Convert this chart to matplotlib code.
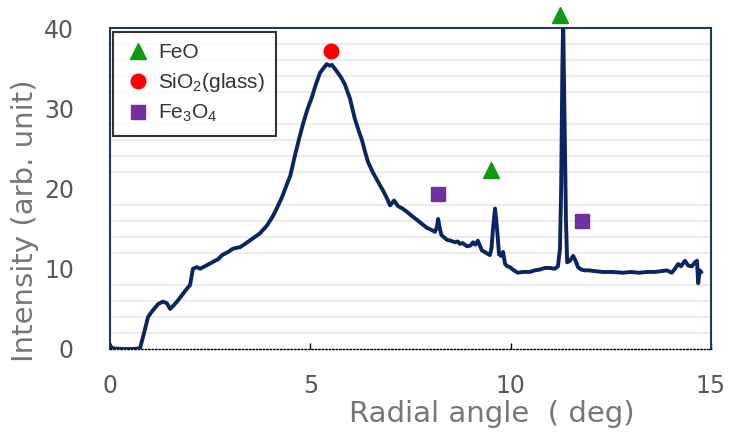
import numpy as np
import matplotlib
matplotlib.use('Agg')
import matplotlib.pyplot as plt
from matplotlib.ticker import MultipleLocator

plt.rcParams['font.family'] = ['DejaVu Sans']
plt.rcParams['mathtext.fontset'] = 'custom'
plt.rcParams['mathtext.rm'] = 'Liberation Sans'
plt.rcParams['mathtext.it'] = 'Liberation Sans'

angle = [0.0, 0.05, 0.3, 0.6, 0.75, 0.85, 0.95, 1.05, 1.2, 1.32, 1.42, 1.5, 1.6, 1.67,
         1.78, 1.87, 2.0, 2.07, 2.17, 2.25, 2.4, 2.55, 2.7, 2.8, 2.95, 3.07, 3.25, 3.4,
         3.57, 3.74, 3.92, 4.07, 4.17, 4.3, 4.42, 4.5, 4.62, 4.72, 4.82, 4.93, 5.04, 5.14,
         5.24, 5.33, 5.41, 5.48, 5.54, 5.6, 5.66, 5.76, 5.86, 5.99, 6.11, 6.2, 6.29, 6.37,
         6.44, 6.56, 6.65, 6.74, 6.83, 6.91, 6.99, 7.09, 7.19, 7.3, 7.41, 7.53, 7.66, 7.78,
         7.91, 8.0, 8.11, 8.16, 8.19, 8.22, 8.27, 8.41, 8.5, 8.61, 8.68, 8.73, 8.8, 8.91,
         9.0, 9.06, 9.12, 9.18, 9.23, 9.28, 9.38, 9.48, 9.52, 9.56, 9.61, 9.66, 9.71, 9.76,
         9.81, 9.86, 9.92, 9.98, 10.08, 10.18, 10.3, 10.48, 10.6, 10.73, 10.85, 10.98, 11.1,
         11.18, 11.23, 11.26, 11.29, 11.31, 11.34, 11.38, 11.41, 11.48, 11.56, 11.62, 11.68,
         11.76, 11.85, 11.95, 12.1, 12.3, 12.55, 12.8, 13.0, 13.2, 13.4, 13.6, 13.75, 13.9,
         14.02, 14.1, 14.18, 14.25, 14.35, 14.43, 14.52, 14.6, 14.65, 14.68, 14.72, 14.75]
intensity = [0.5, 0.1, 0.0, 0.0, 0.1, 2.0, 4.0, 4.7, 5.6, 5.9, 5.7, 5.0, 5.5, 5.9,
             6.6, 7.2, 8.0, 10.0, 10.2, 10.0, 10.4, 10.8, 11.2, 11.7, 12.1, 12.5, 12.7, 13.2,
             13.8, 14.4, 15.4, 16.6, 17.6, 19.0, 20.6, 21.6, 24.2, 26.2, 28.1, 29.9, 31.4, 33.0,
             34.4, 35.0, 35.5, 35.3, 35.4, 35.0, 34.6, 33.9, 33.0, 31.2, 28.7, 27.3, 26.0, 24.5,
             23.3, 22.0, 21.2, 20.4, 19.6, 18.8, 17.9, 18.5, 17.8, 17.5, 17.1, 16.6, 16.1, 15.6,
             15.1, 14.9, 14.6, 15.2, 16.2, 15.3, 14.2, 13.6, 13.5, 13.3, 13.4, 13.1, 13.2, 12.8,
             12.9, 13.3, 13.0, 13.5, 12.9, 12.3, 12.0, 11.7, 12.5, 15.0, 17.5, 15.0, 11.8, 11.6,
             12.1, 10.6, 10.3, 10.2, 9.8, 9.5, 9.6, 9.6, 9.8, 9.9, 10.1, 10.1, 10.0,
             10.3, 12.5, 20.0, 35.0, 41.0, 30.0, 16.0, 10.8, 11.0, 11.6, 11.0, 10.2,
             9.9, 9.8, 9.8, 9.7, 9.6, 9.6, 9.5, 9.6, 9.5, 9.6, 9.6, 9.7, 9.8,
             9.5, 10.0, 10.6, 10.3, 11.0, 10.4, 10.3, 10.8, 11.0, 8.2, 9.8, 9.6]

feo_x = [9.51, 11.23]
feo_y = [22.3, 41.6]
sio2_x = [5.52]
sio2_y = [37.1]
fe3o4_x = [8.19, 11.78]
fe3o4_y = [19.3, 15.9]

fig = plt.figure(figsize=(7.29, 4.37), dpi=100)
ax = fig.add_axes([110/729, 88/437, 601/729, 321/437])

ax.plot(angle, intensity, color='#0c2461', lw=2.8, zorder=3)

ax.plot(feo_x, feo_y, ls='none', marker='^', ms=12, color='#0f9a0f', label='FeO', clip_on=False, zorder=4)
ax.plot(sio2_x, sio2_y, ls='none', marker='o', ms=10.5, color='#ff0000', label='SiO$_2$(glass)', zorder=4)
ax.plot(fe3o4_x, fe3o4_y, ls='none', marker='s', ms=10.5, color='#7030a0', label='Fe$_3$O$_4$', zorder=4)

ax.set_xlim(0, 15)
ax.set_ylim(0, 40)
ax.set_xticks([0, 5, 10, 15])
ax.set_yticks([0, 10, 20, 30, 40])
ax.yaxis.set_minor_locator(MultipleLocator(2))
ax.grid(False)
ax.grid(True, which='minor', axis='y', color='#ececec', lw=1.5)
ax.set_axisbelow(True)

ax.tick_params(axis='x', direction='in', length=4, width=1, color='black',
               labelsize=17, labelcolor='#595959', pad=18)
ax.tick_params(axis='y', which='both', length=0, labelsize=17, labelcolor='#595959', pad=26)
ax.tick_params(axis='y', which='minor', labelleft=False)

for s in ['left', 'top', 'right']:
    ax.spines[s].set_color('#1f3864')
    ax.spines[s].set_linewidth(1.5)
ax.spines['bottom'].set_color('black')
ax.spines['bottom'].set_linestyle((0, (1, 1.5)))
ax.spines['bottom'].set_linewidth(1.0)

ax.set_xlabel('Radial angle  ( deg)', fontsize=21, color='#767676')
ax.xaxis.set_label_coords(0.636, -0.158)
ax.set_ylabel('Intensity (arb. unit)', fontsize=21, color='#767676')
ax.yaxis.set_label_coords(-0.118, 0.40)

leg = ax.legend(loc='upper left', bbox_to_anchor=(0.005, 0.988), borderaxespad=0,
                prop={'family': 'Liberation Sans', 'size': 15}, frameon=True, fancybox=False,
                handletextpad=0.3, handlelength=1.3, labelspacing=0.42, borderpad=0.55)
leg.get_frame().set_edgecolor('black')
leg.get_frame().set_linewidth(1.5)
for t in leg.get_texts():
    t.set_color('#333333')

fig.savefig('out.png', dpi=100)
